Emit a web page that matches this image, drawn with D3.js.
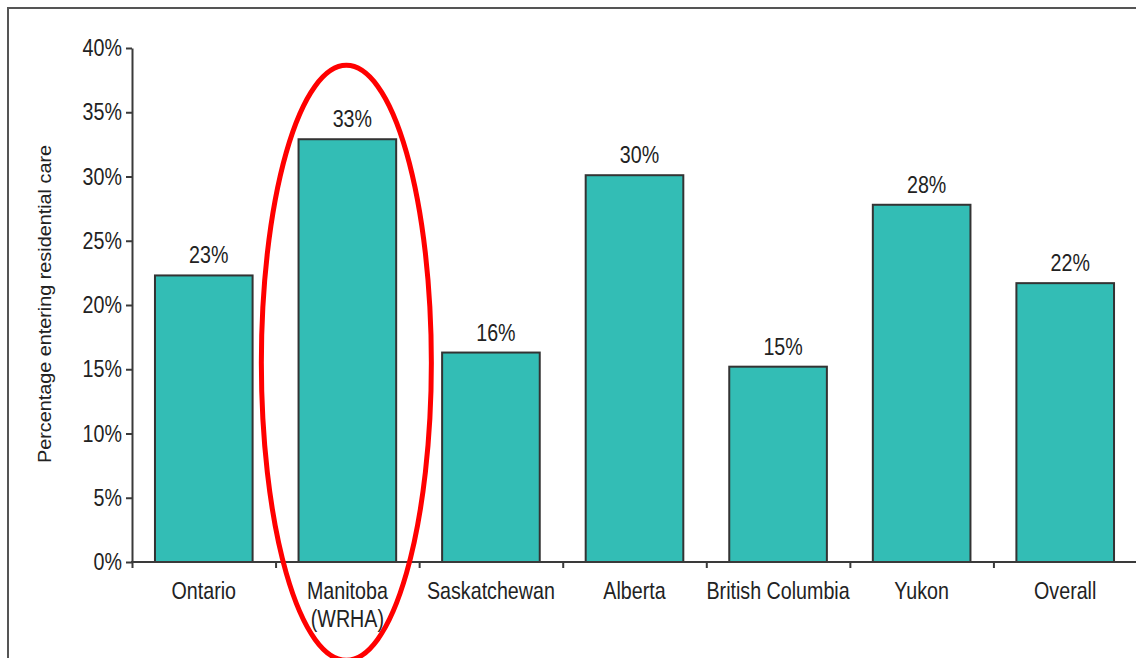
<!DOCTYPE html>
<html>
<head>
<meta charset="utf-8">
<script src="https://cdn.jsdelivr.net/npm/d3@7"></script>
<style>
  html, body { margin: 0; padding: 0; background: #fff; }
  svg { display: block; }
  text { font-family: "Liberation Sans", Arial, sans-serif; fill: #222; }
</style>
</head>
<body>
<svg id="chart" width="1136" height="658"></svg>
<script>
const categories = ["Ontario", "Manitoba\n(WRHA)", "Saskatchewan", "Alberta", "British Columbia", "Yukon", "Overall"];
const values = [22.3, 32.9, 16.3, 30.1, 15.2, 27.8, 21.7];
const valueLabels = ["23%", "33%", "16%", "30%", "15%", "28%", "22%"];
const yTicks = [0, 5, 10, 15, 20, 25, 30, 35, 40];
const yTitle = "Percentage entering residential care";
const highlighted = "Manitoba\n(WRHA)";

(function () {
const svg = d3.select("#chart");
const mLeft = 132, mRight = 1137, mTop = 48, mBottom = 562;
const sx = 0.82; // horizontal compression of text

// frame
svg.append("rect").attr("x", 8).attr("y", 8).attr("width", 1200).attr("height", 700)
  .attr("fill", "none").attr("stroke", "#555").attr("stroke-width", 2);

const x = d3.scaleBand().domain(categories).range([mLeft, mRight]).paddingInner(0.32).paddingOuter(0.16);
const xEdge = d3.scaleLinear().domain([0, categories.length]).range([mLeft, mRight]);
const y = d3.scaleLinear().domain([0, 40]).range([mBottom, mTop]);

// bars
svg.append("g").selectAll("rect").data(categories).join("rect")
  .attr("x", d => x(d))
  .attr("y", (d, i) => y(values[i]))
  .attr("width", x.bandwidth())
  .attr("height", (d, i) => y(0) - y(values[i]))
  .attr("fill", "#33bdb5")
  .attr("stroke", "#333")
  .attr("stroke-width", 2);

// value labels
svg.append("g").selectAll("text").data(categories).join("text")
  .attr("transform", (d, i) => `translate(${x(d) + x.bandwidth() / 2 + 5},${y(values[i]) - 12}) scale(${sx},1)`)
  .attr("text-anchor", "middle")
  .attr("font-size", 24)
  .text((d, i) => valueLabels[i]);

// y axis
const yAxis = svg.append("g").attr("transform", `translate(${mLeft},0)`)
  .call(d3.axisLeft(y).tickValues(yTicks).tickFormat(d => d + "%").tickSize(6).tickSizeOuter(0));
yAxis.selectAll("path, line").attr("stroke", "#3a3a3a").attr("stroke-width", 2);
yAxis.selectAll("text")
  .attr("font-size", 24).attr("fill", "#222")
  .attr("font-family", "Liberation Sans, Arial, sans-serif")
  .attr("x", -10 / sx).attr("dy", "0.32em")
  .attr("transform", `scale(${sx},1)`);

// x axis: boundary ticks
const xAxis = svg.append("g").attr("transform", `translate(0,${mBottom})`)
  .call(d3.axisBottom(xEdge).tickValues(d3.range(categories.length + 1)).tickFormat("").tickSize(6).tickSizeOuter(0));
xAxis.selectAll("path, line").attr("stroke", "#3a3a3a").attr("stroke-width", 2);
xAxis.select("path.domain").attr("d", `M${mLeft - 1},0H1140`);

// x labels
const xLab = svg.append("g").attr("transform", `translate(0,${mBottom})`)
  .call(d3.axisBottom(x).tickSize(0).tickFormat(""));
xLab.select("path.domain").remove();
xLab.selectAll(".tick").each(function(d) {
  const t = d3.select(this).append("text")
    .attr("font-size", 24).attr("fill", "#222")
    .attr("font-family", "Liberation Sans, Arial, sans-serif")
    .attr("text-anchor", "middle")
    .attr("transform", `scale(${sx},1)`);
  d.split("\n").forEach((line, i) => {
    t.append("tspan").attr("x", 0).attr("y", 37 + i * 28).text(line);
  });
});

// y title
svg.append("text")
  .attr("transform", `translate(51,304) rotate(-90)`)
  .attr("text-anchor", "middle")
  .attr("font-size", 18)
  .attr("textLength", 318)
  .attr("lengthAdjust", "spacingAndGlyphs")
  .attr("fill", "#333")
  .text(yTitle);

// red highlight ellipse
const cx = x(highlighted) + x.bandwidth() / 2;
svg.append("ellipse")
  .attr("cx", cx - 1)
  .attr("cy", y(15.5))
  .attr("rx", 85)
  .attr("ry", y(0) - y(23.15))
  .attr("fill", "none")
  .attr("stroke", "#ff0000")
  .attr("stroke-width", 5);
})();
</script>
</body>
</html>
